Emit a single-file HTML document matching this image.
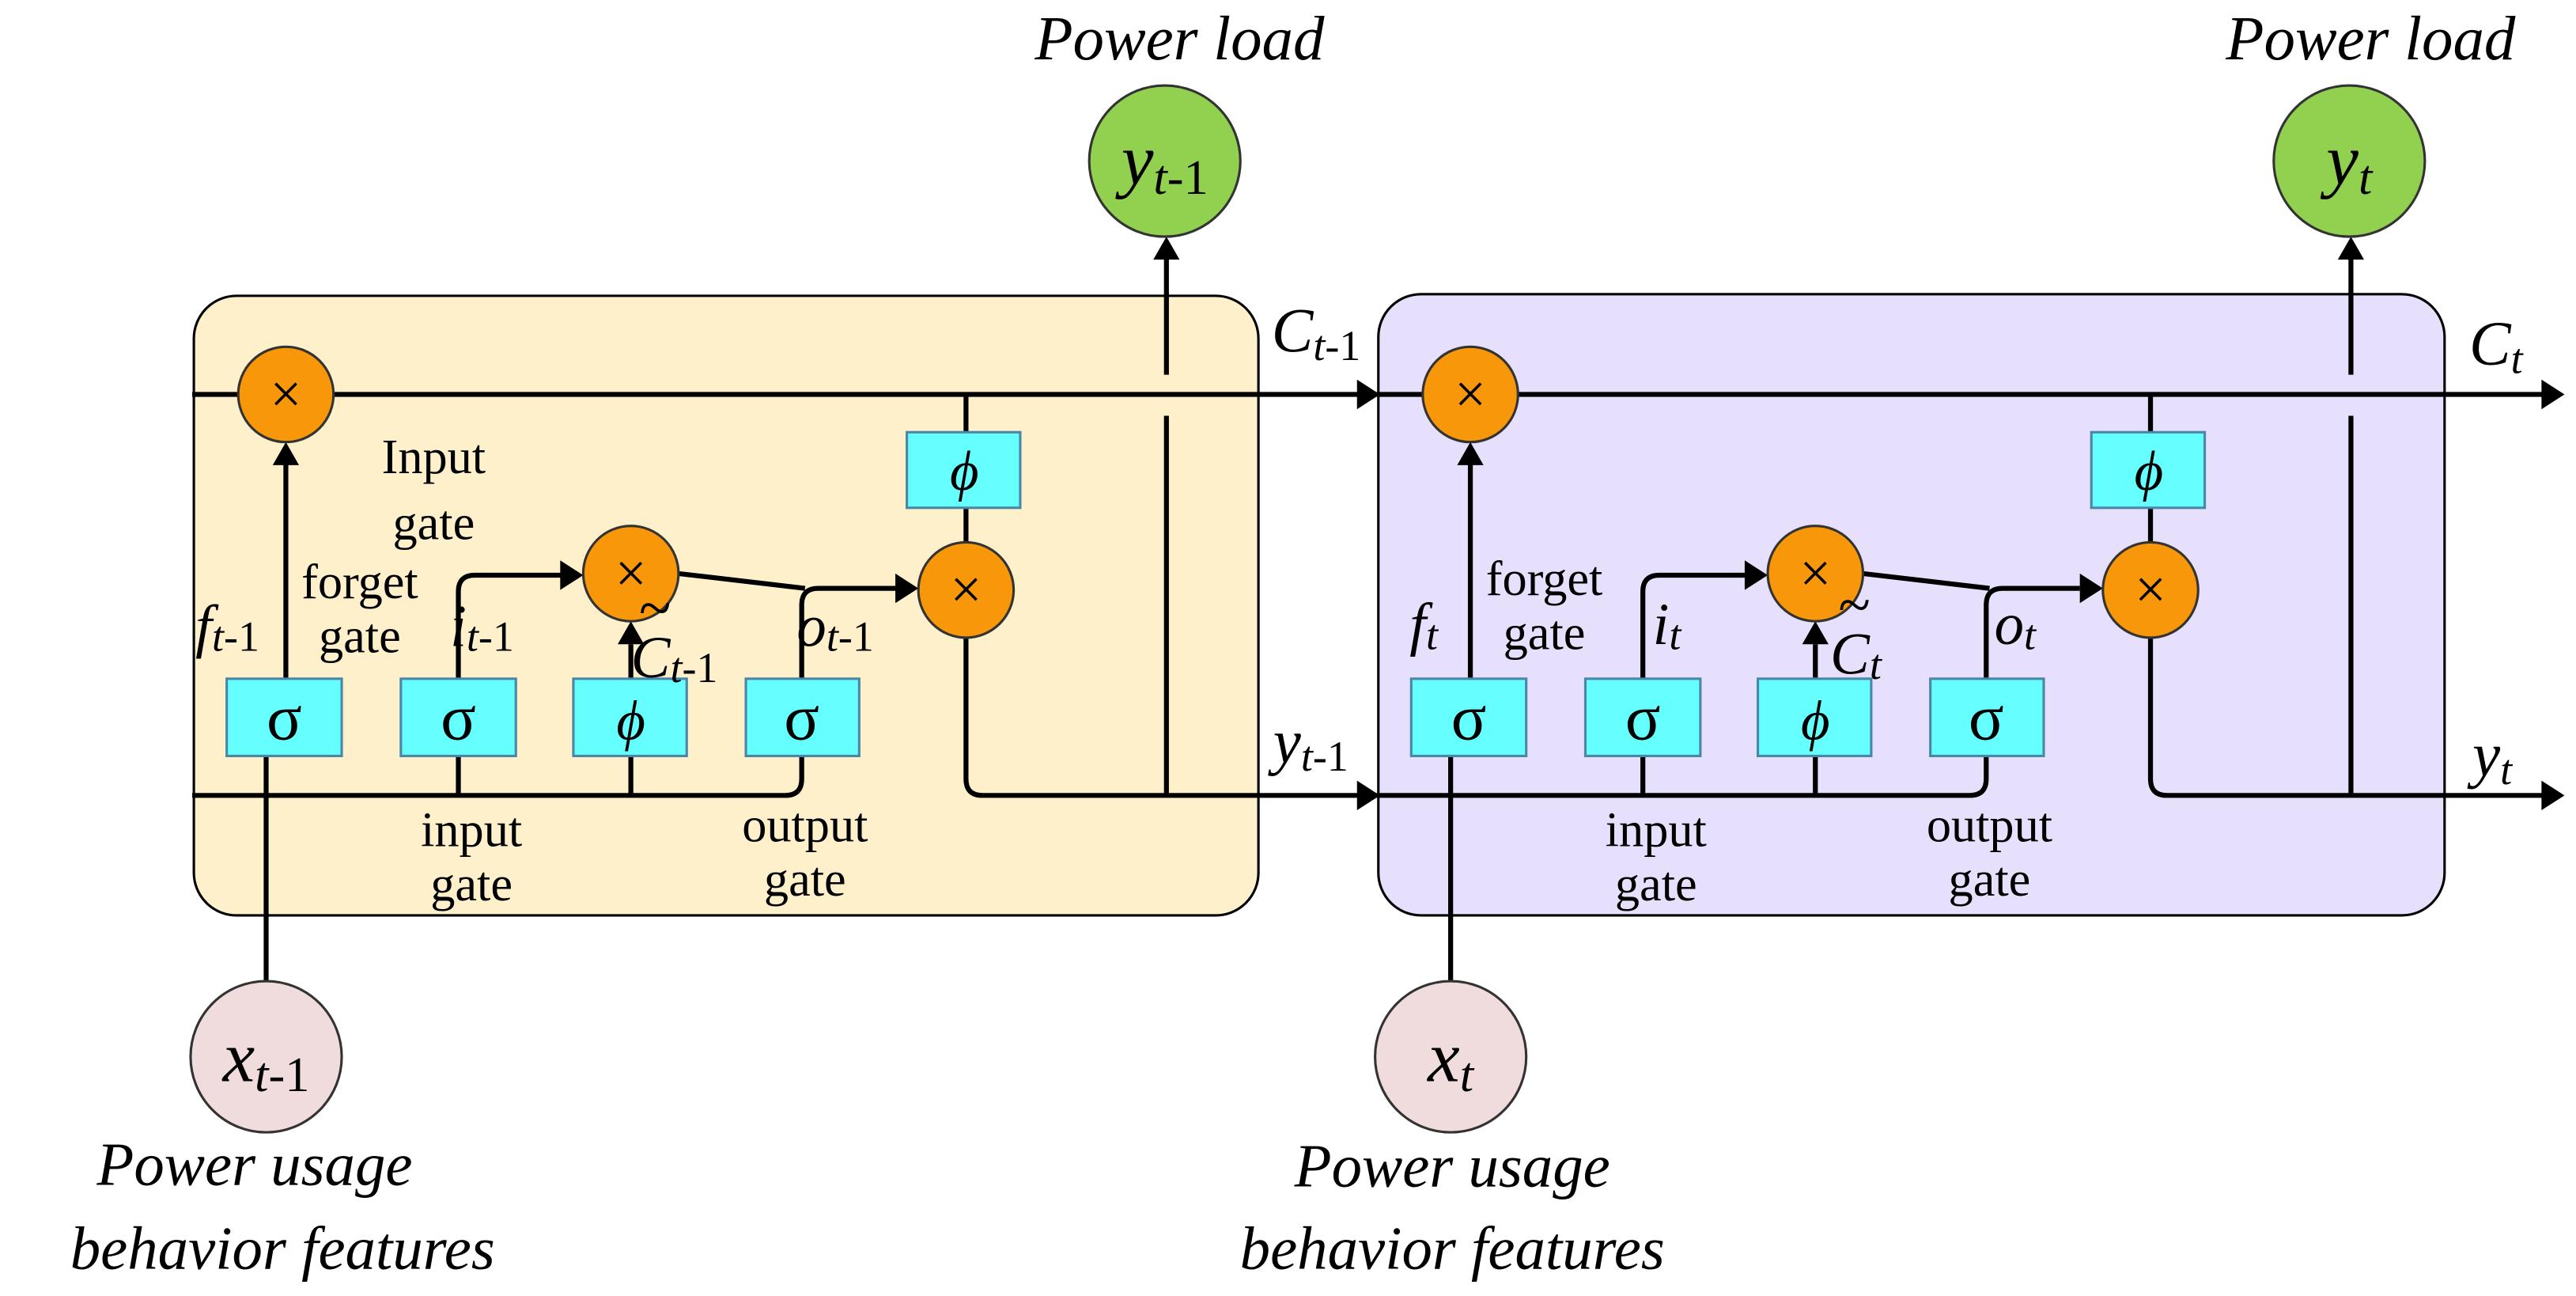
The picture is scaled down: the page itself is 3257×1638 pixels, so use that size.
<!DOCTYPE html>
<html><head><meta charset="utf-8"><style>
html,body{margin:0;padding:0;background:#fff;}
svg{display:block;}
text{font-family:"Liberation Serif",serif;fill:#000;}
.it{font-style:italic;}
</style></head><body>
<svg width="3257" height="1638" viewBox="0 0 1568 788.6" preserveAspectRatio="none" xmlns="http://www.w3.org/2000/svg">
<defs>
<g id="cell">
  <g fill="none" stroke="#000" stroke-width="3">
    <path d="M117 240 H828"/>
    <path d="M174 413 V282"/>
    <path d="M162 460 V597"/>
    <path d="M279 484 V413 M279 413 V360 Q279 350 289 350 H343"/>
    <path d="M384 484 V413 M384 413 V392"/>
    <path d="M117 484 H478 Q488 484 488 474 V460 M488 413 V368 Q488 358 498 358 H545"/>
    <path d="M413 349 L490 358"/>
    <path d="M588 240 V263 M588 309 V330"/>
    <path d="M588 388 V474 Q588 484 598 484 H828"/>
    <path d="M710 484 V253 M710 228 V157"/>
  </g>
  <g fill="#000">
    <polygon points="826,231 840,240 826,249"/>
    <polygon points="826,475 840,484 826,493"/>
    <polygon points="166,283 174,269 182,283"/>
    <polygon points="341,341 355,350 341,359"/>
    <polygon points="376,392 384,378 392,392"/>
    <polygon points="545,349 559,358 545,367"/>
    <polygon points="702,158 710,144 718,158"/>
  </g>
  <g fill="#66ffff" stroke="#4a86a6" stroke-width="1.5">
    <rect x="138" y="413" width="70" height="47"/>
    <rect x="244" y="413" width="70" height="47"/>
    <rect x="349" y="413" width="69" height="47"/>
    <rect x="454" y="413" width="69" height="47"/>
    <rect x="552" y="263" width="69" height="46"/>
  </g>
  <g fill="#f79709" stroke="#333" stroke-width="1.5">
    <circle cx="174" cy="240" r="29"/>
    <circle cx="384" cy="349" r="29"/>
    <circle cx="588" cy="359" r="29"/>
  </g>
  <circle cx="709" cy="98" r="46" fill="#92d050" stroke="#333" stroke-width="1.5"/>
  <circle cx="162" cy="643" r="46" fill="#f0dcdc" stroke="#333" stroke-width="1.5"/>
  <g font-size="34" text-anchor="middle">
    <text x="174" y="251">×</text>
    <text x="384" y="360">×</text>
    <text x="588" y="370">×</text>
  </g>
  <g font-size="40" text-anchor="middle">
    <text x="173" y="450">σ</text>
    <text x="279" y="450">σ</text>
    <text x="488" y="450">σ</text>
    <text x="384" y="450" class="it" font-size="34">ϕ</text>
    <text x="587" y="298" class="it" font-size="34">ϕ</text>
  </g>
  <g font-size="30" text-anchor="middle">
    <text x="287" y="515">input</text>
    <text x="287" y="548">gate</text>
    <text x="490" y="512">output</text>
    <text x="490" y="545">gate</text>
  </g>
</g>
</defs>

<rect x="118" y="180" width="648" height="377" rx="26" fill="#fff0cc" stroke="#000" stroke-width="1.5"/>
<rect x="839" y="179" width="649" height="378" rx="26" fill="#e6e0fd" stroke="#000" stroke-width="1.5"/>
<use href="#cell"/>
<use href="#cell" transform="translate(721,0)"/>

<!-- left labels -->
<text x="718" y="36" font-size="38" class="it" text-anchor="middle">Power load</text>
<text x="709" y="112" font-size="44" text-anchor="middle"><tspan class="it">y</tspan><tspan class="it" font-size="30" dy="6">t</tspan><tspan font-size="30">-1</tspan></text>
<text x="162" y="658" font-size="44" text-anchor="middle"><tspan class="it">x</tspan><tspan class="it" font-size="30" dy="6">t</tspan><tspan font-size="30">-1</tspan></text>
<text x="155" y="721" font-size="37" class="it" text-anchor="middle">Power usage</text>
<text x="172" y="772" font-size="37" class="it" text-anchor="middle">behavior features</text>
<text x="774" y="214" font-size="38"><tspan class="it">C</tspan><tspan class="it" font-size="26" dy="5">t</tspan><tspan font-size="26">-1</tspan></text>
<text x="775" y="464" font-size="38"><tspan class="it">y</tspan><tspan class="it" font-size="26" dy="5">t</tspan><tspan font-size="26">-1</tspan></text>
<text x="264" y="288" font-size="30" text-anchor="middle">Input</text>
<text x="264" y="328" font-size="30" text-anchor="middle">gate</text>
<text x="219" y="364" font-size="30" text-anchor="middle">forget</text>
<text x="219" y="397" font-size="30" text-anchor="middle">gate</text>
<text x="119" y="393" font-size="36"><tspan class="it">f</tspan><tspan class="it" font-size="26" dy="3">t</tspan><tspan font-size="26">-1</tspan></text>
<text x="274" y="393" font-size="36"><tspan class="it">i</tspan><tspan class="it" font-size="26" dy="3">t</tspan><tspan font-size="26">-1</tspan></text>
<text x="384" y="412" font-size="36"><tspan class="it">C</tspan><tspan class="it" font-size="26" dy="3">t</tspan><tspan font-size="26">-1</tspan></text>
<text x="389" y="382" font-size="36">~</text>
<text x="485" y="393" font-size="36"><tspan class="it">o</tspan><tspan class="it" font-size="26" dy="3">t</tspan><tspan font-size="26">-1</tspan></text>

<!-- right labels -->
<text x="1443" y="36" font-size="38" class="it" text-anchor="middle">Power load</text>
<text x="1430" y="112" font-size="44" text-anchor="middle"><tspan class="it">y</tspan><tspan class="it" font-size="30" dy="6">t</tspan></text>
<text x="883" y="658" font-size="44" text-anchor="middle"><tspan class="it">x</tspan><tspan class="it" font-size="30" dy="6">t</tspan></text>
<text x="884" y="722" font-size="37" class="it" text-anchor="middle">Power usage</text>
<text x="884" y="772" font-size="37" class="it" text-anchor="middle">behavior features</text>
<text x="1503" y="222" font-size="38"><tspan class="it">C</tspan><tspan class="it" font-size="26" dy="5">t</tspan></text>
<text x="1505" y="472" font-size="38"><tspan class="it">y</tspan><tspan class="it" font-size="26" dy="5">t</tspan></text>
<text x="940" y="362" font-size="30" text-anchor="middle">forget</text>
<text x="940" y="395" font-size="30" text-anchor="middle">gate</text>
<text x="858" y="392" font-size="36"><tspan class="it">f</tspan><tspan class="it" font-size="26" dy="3">t</tspan></text>
<text x="1006" y="392" font-size="36"><tspan class="it">i</tspan><tspan class="it" font-size="26" dy="3">t</tspan></text>
<text x="1114" y="410" font-size="36"><tspan class="it">C</tspan><tspan class="it" font-size="26" dy="3">t</tspan></text>
<text x="1119" y="380" font-size="36">~</text>
<text x="1214" y="392" font-size="36"><tspan class="it">o</tspan><tspan class="it" font-size="26" dy="3">t</tspan></text>
</svg>
</body></html>
